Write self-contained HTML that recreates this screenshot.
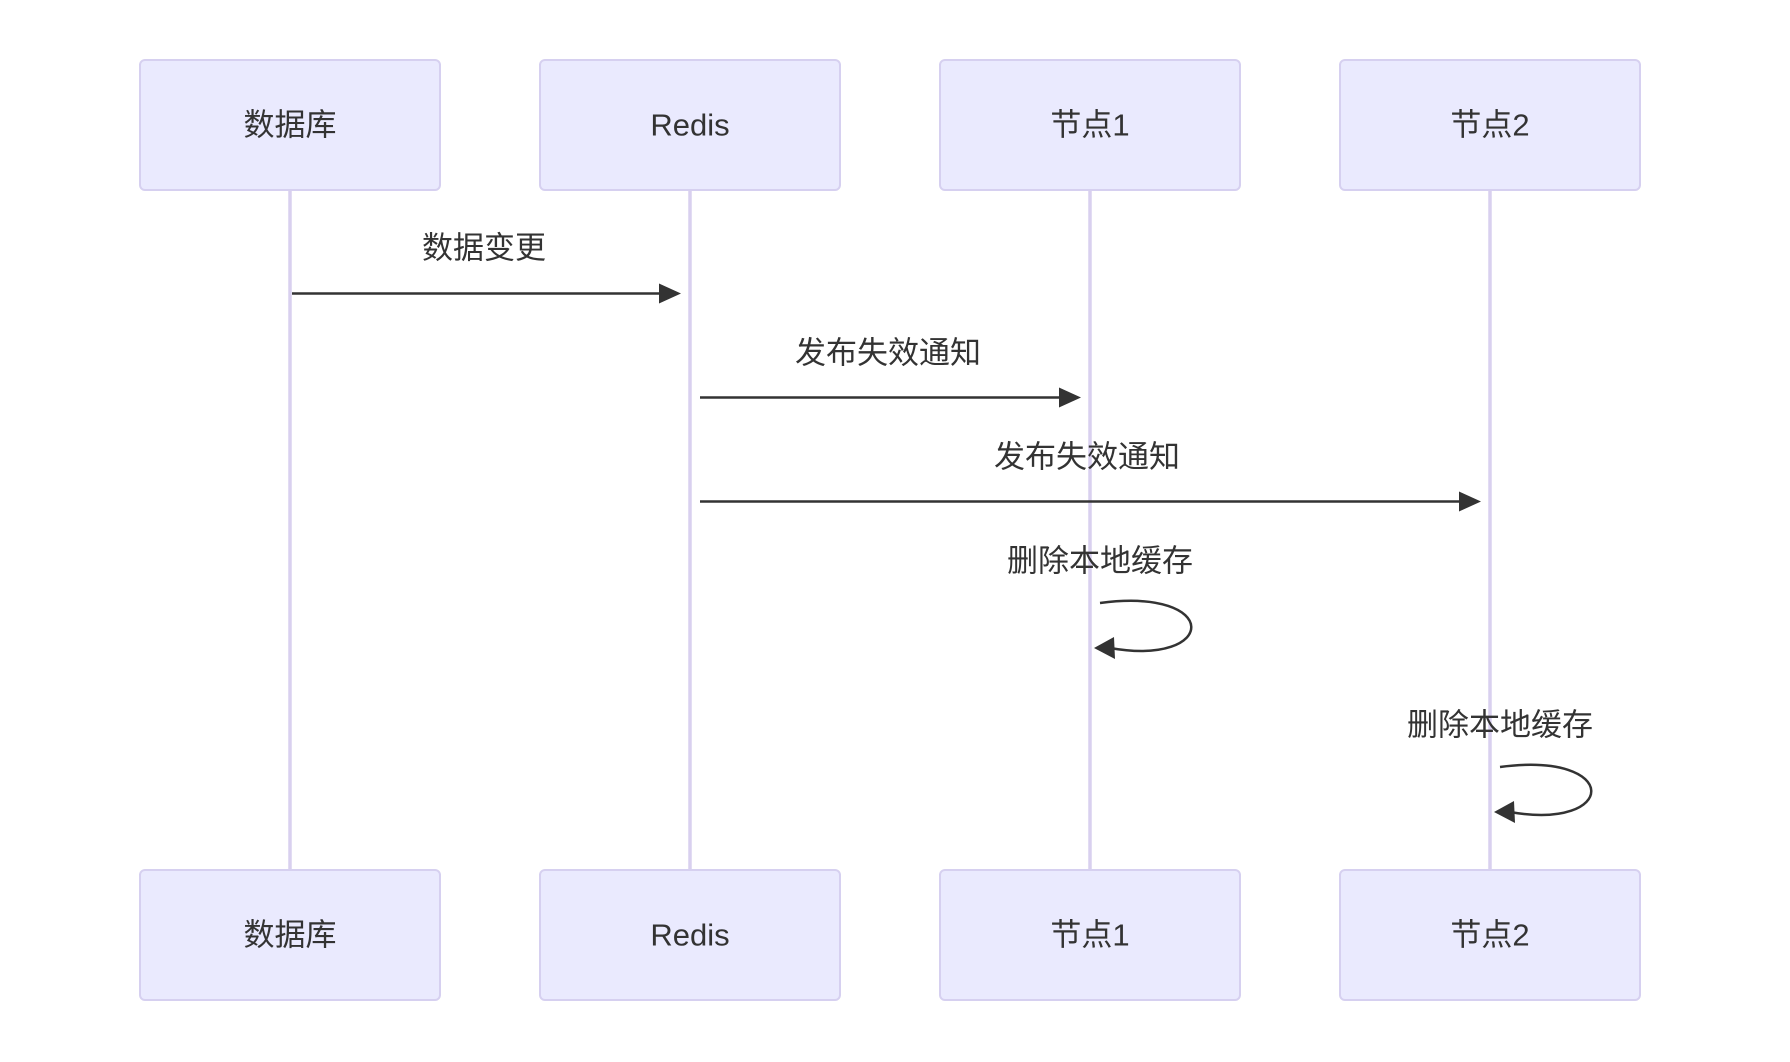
<!DOCTYPE html>
<html><head><meta charset="utf-8"><style>
html,body{margin:0;padding:0;background:#fff;}
svg{display:block}
text{font-family:"Liberation Sans","Noto Sans CJK SC",sans-serif;font-size:31px;fill:#333;text-anchor:middle;dominant-baseline:central}
</style></head><body>
<svg width="1790" height="1062" viewBox="0 0 1790 1062" xmlns="http://www.w3.org/2000/svg">
<g stroke="#d9d0ef" stroke-width="3.5">
<line x1="290" y1="190" x2="290" y2="870"/>
<line x1="690" y1="190" x2="690" y2="870"/>
<line x1="1090" y1="190" x2="1090" y2="870"/>
<line x1="1490" y1="190" x2="1490" y2="870"/>
</g>
<g fill="#eaeafe" stroke="#d6d0f0" stroke-width="2">
<rect x="140" y="60" width="300" height="130" rx="5"/>
<rect x="540" y="60" width="300" height="130" rx="5"/>
<rect x="940" y="60" width="300" height="130" rx="5"/>
<rect x="1340" y="60" width="300" height="130" rx="5"/>
<rect x="140" y="870" width="300" height="130" rx="5"/>
<rect x="540" y="870" width="300" height="130" rx="5"/>
<rect x="940" y="870" width="300" height="130" rx="5"/>
<rect x="1340" y="870" width="300" height="130" rx="5"/>
</g>
<text x="290" y="125">数据库</text>
<text x="690" y="125">Redis</text>
<text x="1090" y="125">节点1</text>
<text x="1490" y="125">节点2</text>
<text x="290" y="935">数据库</text>
<text x="690" y="935">Redis</text>
<text x="1090" y="935">节点1</text>
<text x="1490" y="935">节点2</text>

<g stroke="#333" stroke-width="2.5" fill="none">
<line x1="292" y1="293.5" x2="668" y2="293.5"/>
<line x1="700" y1="397.5" x2="1068" y2="397.5"/>
<line x1="700" y1="501.5" x2="1468" y2="501.5"/>
<path d="M1100,603 C1222,587 1218,667 1110,648"/>
<path d="M1500,767 C1622,751 1618,831 1510,812"/>
</g>
<g fill="#333">
<path d="M659,283.5 L681,293.5 L659,303.5 z"/>
<path d="M1059,387.5 L1081,397.5 L1059,407.5 z"/>
<path d="M1459,491.5 L1481,501.5 L1459,511.5 z"/>
<path d="M1094,648 L1114,637 L1115,659 z"/>
<path d="M1494,812 L1514,801 L1515,823 z"/>
</g>
<text x="484" y="248">数据变更</text>
<text x="888" y="353">发布失效通知</text>
<text x="1087" y="457">发布失效通知</text>
<text x="1100" y="561">删除本地缓存</text>
<text x="1500" y="725">删除本地缓存</text>
</svg>
</body></html>
